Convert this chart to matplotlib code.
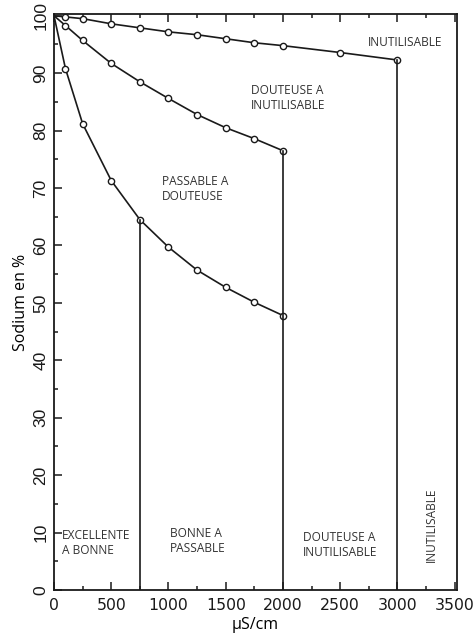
import matplotlib
matplotlib.use("Agg")
import matplotlib.pyplot as plt
from matplotlib.ticker import MultipleLocator

# Data
x_pts = [0, 100, 250, 500, 750, 1000, 1250, 1500, 1750, 2000]
x_top = [0, 100, 250, 500, 750, 1000, 1250, 1500, 1750, 2000, 2500, 3000]
y_top = [100, 99.8, 99.5, 98.6, 97.9, 97.2, 96.7, 96.0, 95.3, 94.8, 93.6, 92.3]
y_mid = [100, 98.3, 95.7, 91.7, 88.5, 85.6, 82.8, 80.5, 78.6, 76.5]
y_low = [100, 90.8, 81.2, 71.3, 64.5, 59.7, 55.7, 52.7, 50.1, 47.8]

vlines_x = [750, 2000, 3000]
vlines_top = [64.5, 76.5, 92.3]

labels = [
    ("INUTILISABLE", 2745, 95.3),
    ("DOUTEUSE A\nINUTILISABLE", 1720, 85.7),
    ("PASSABLE A\nDOUTEUSE", 945, 69.9),
    ("EXCELLENTE\nA BONNE", 70, 8.2),
    ("BONNE A\nPASSABLE", 1015, 8.5),
    ("DOUTEUSE A\nINUTILISABLE", 2175, 7.8),
]

fig = plt.figure(figsize=(4.75, 6.39), dpi=100)
ax = fig.add_axes([0.1137, 0.0767, 0.9621 - 0.1137, 0.978 - 0.0767])

lc = "#1a1a1a"
mk = dict(marker="o", markersize=4.5, markerfacecolor="white", markeredgecolor=lc,
          markeredgewidth=1.0, color=lc, linewidth=1.2)

ax.plot(x_top, y_top, markevery=list(range(1, len(x_top))), **mk)
ax.plot(x_pts, y_mid, markevery=list(range(1, len(x_pts))), **mk)
ax.plot(x_pts, y_low, markevery=list(range(1, len(x_pts))), **mk)

for xv, yt in zip(vlines_x, vlines_top):
    ax.plot([xv, xv], [0, yt], color=lc, linewidth=1.2)

tf = "Open Sans"
fs = 8.6
for txt, xv, yv in labels:
    ax.text(xv, yv, txt, ha="left", va="center", fontsize=fs, family=tf,
            color="#333333", linespacing=1.2)
ax.text(3295, 11.3, "INUTILISABLE", rotation=90, ha="center", va="center",
        fontsize=fs, family=tf, color="#333333")

ax.set_xlim(0, 3520)
ax.set_ylim(0, 100.3)
ax.xaxis.set_major_locator(MultipleLocator(500))
ax.xaxis.set_minor_locator(MultipleLocator(250))
ax.yaxis.set_major_locator(MultipleLocator(10))
ax.yaxis.set_minor_locator(MultipleLocator(5))
ax.tick_params(axis="both", which="major", direction="in", length=6, width=1.1,
               colors=lc)
ax.tick_params(axis="both", which="minor", direction="in", length=3, width=1.1, colors=lc)
ax.tick_params(axis="x", which="both", top=True, labelsize=11.3, pad=6)
ax.tick_params(axis="y", labelsize=12.5, pad=4)
for lab in ax.get_yticklabels():
    lab.set_rotation(90)
    lab.set_va("center")
    lab.set_family("Liberation Sans")
for lab in ax.get_xticklabels():
    lab.set_family("DejaVu Sans")

for s in ax.spines.values():
    s.set_linewidth(1.3)
    s.set_color(lc)

ax.set_xlabel("µS/cm", fontsize=11.5, family=tf, labelpad=3)
ax.set_ylabel("Sodium en %", fontsize=11.5, family=tf, labelpad=3)

fig.savefig("out.png", dpi=100)
